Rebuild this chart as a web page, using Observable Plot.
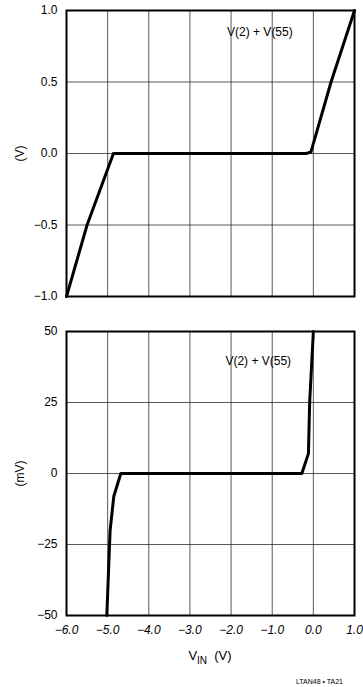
<!DOCTYPE html>
<html><head><meta charset="utf-8">
<script src="https://cdn.jsdelivr.net/npm/d3@7"></script>
<script src="https://cdn.jsdelivr.net/npm/@observablehq/plot@0.6"></script>
<style>
body{margin:0;background:#fff;font-family:"Liberation Sans",Arial,sans-serif;color:#000;}
#wrap{position:relative;width:363px;height:687px;overflow:hidden;}
#topChart,#botChart{display:block;line-height:0;}
#xlabel{position:absolute;left:160px;width:100px;top:648px;text-align:center;font-size:13px;line-height:16px;}
#xlabel sub{font-size:10px;vertical-align:-4px;}
#note{position:absolute;right:20px;top:678px;font-size:7px;line-height:8px;}
</style></head><body>
<div id="wrap"><div id="topChart"></div><div id="botChart"></div>
<div id="xlabel">V<sub>IN</sub>&nbsp;&nbsp;(V)</div>
<div id="note">LTAN48 • TA21</div></div>
<script>
const xTicks = [-6, -5, -4, -3, -2, -1, 0, 1];
const yTicksTop = [-1, -0.5, 0, 0.5, 1];
const yTicksBot = [-50, -25, 0, 25, 50];
const vinTop = [-6.0, -5.5, -5.0, -4.86, -0.18, -0.06, 0.43, 1.0];
const voutTop = [-1.0, -0.5, -0.11, 0.0, 0.0, 0.01, 0.5, 1.0];
const vinBot = [-5.02, -4.94, -4.85, -4.68, -0.28, -0.12, -0.09, 0.0];
const voutBot = [-50, -20, -8, 0, 0, 7, 25, 50];
const annotation = "V(2) + V(55)";
const annotTop = [{x: -1.3, y: 0.85}];
const annotBot = [{x: -1.34, y: 39.4}];

const tableTop = vinTop.map((v, i) => ({vin: v, vout: voutTop[i]}));
const tableBot = vinBot.map((v, i) => ({vin: v, vout: voutBot[i]}));
const chartStyle = {fontSize: "12px", fontFamily: "Liberation Sans, Arial, sans-serif", background: "#fff", color: "#000", overflow: "visible"};
const gridStyle = {stroke: "#222", strokeWidth: 1, strokeOpacity: 0.75};

const topPlot = Plot.plot({
  width: 363, height: 310, marginLeft: 66, marginRight: 9, marginTop: 10, marginBottom: 14,
  style: chartStyle,
  x: {domain: [-6, 1], axis: null},
  y: {domain: [-1, 1], axis: null},
  marks: [
    Plot.ruleX(xTicks, gridStyle),
    Plot.ruleY(yTicksTop, gridStyle),
    Plot.axisY(yTicksTop, {tickSize: 0, tickPadding: 9, tickFormat: d3.format(".1f"), label: "(V)", labelArrow: false, labelAnchor: "center", labelOffset: 51}),
    Plot.line(tableTop, {x: "vin", y: "vout", stroke: "#000", strokeWidth: 3, strokeLinejoin: "round"}),
    Plot.frame({stroke: "#000", strokeWidth: 2}),
    Plot.text(annotTop, {x: "x", y: "y", text: () => annotation, fontSize: 12})
  ]
});
document.getElementById("topChart").appendChild(topPlot);

const botPlot = Plot.plot({
  width: 363, height: 333, marginLeft: 66, marginRight: 9, marginTop: 21, marginBottom: 28,
  style: chartStyle,
  x: {domain: [-6, 1], axis: null},
  y: {domain: [-50, 50], axis: null},
  marks: [
    Plot.ruleX(xTicks, gridStyle),
    Plot.ruleY(yTicksBot, gridStyle),
    Plot.axisY(yTicksBot, {tickSize: 0, tickPadding: 9, tickFormat: d3.format("d"), label: "(mV)", labelArrow: false, labelAnchor: "center", labelOffset: 51}),
    Plot.axisX(xTicks, {tickSize: 0, tickPadding: 10, tickFormat: d3.format(".1f"), label: null, fontStyle: "italic"}),
    Plot.line(tableBot, {x: "vin", y: "vout", stroke: "#000", strokeWidth: 3, strokeLinejoin: "round"}),
    Plot.frame({stroke: "#000", strokeWidth: 2}),
    Plot.text(annotBot, {x: "x", y: "y", text: () => annotation, fontSize: 12})
  ]
});
document.getElementById("botChart").appendChild(botPlot);
</script>
</body></html>
